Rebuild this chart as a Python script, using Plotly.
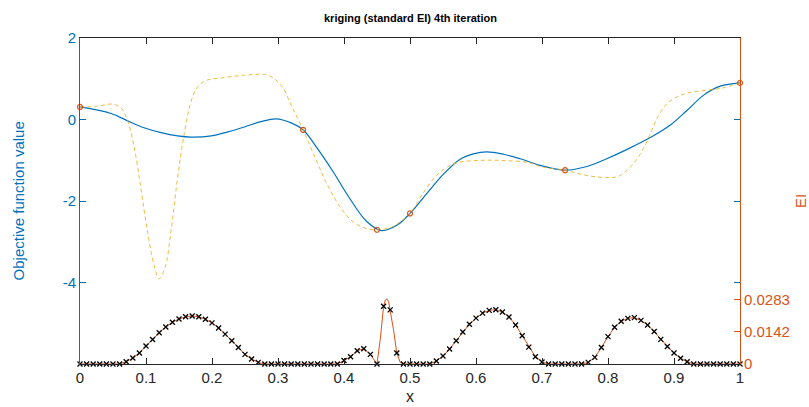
import numpy as np
import plotly.graph_objects as go

# ---------------- data ----------------
# kriging prediction (blue solid)
pred_x = [0, 0.047, 0.072, 0.097, 0.123, 0.148, 0.168, 0.199, 0.224, 0.249, 0.274, 0.297, 0.32, 0.338,
          0.358, 0.384, 0.409, 0.434, 0.457, 0.48, 0.5, 0.525, 0.551, 0.576, 0.596, 0.616, 0.642, 0.667,
          0.697, 0.735, 0.768, 0.798, 0.829, 0.864, 0.894, 0.92, 0.945, 0.97, 1.0]
pred_y = [0.31, 0.15, -0.03, -0.20, -0.32, -0.40, -0.43, -0.40, -0.30, -0.18, -0.05, 0.02, -0.08, -0.25,
          -0.67, -1.29, -1.94, -2.49, -2.72, -2.59, -2.30, -1.82, -1.33, -0.97, -0.84, -0.79, -0.85, -0.96,
          -1.12, -1.24, -1.15, -0.96, -0.73, -0.44, -0.14, 0.23, 0.60, 0.82, 0.90]

# true objective function (yellow dashed)
true_x = [0, 0.027, 0.049, 0.062, 0.072, 0.082, 0.092, 0.102, 0.113, 0.120, 0.129, 0.138, 0.148, 0.158,
          0.168, 0.178, 0.191, 0.214, 0.249, 0.272, 0.285, 0.305, 0.320, 0.338, 0.358, 0.374, 0.394, 0.414,
          0.434, 0.45, 0.47, 0.485, 0.5, 0.52, 0.54, 0.561, 0.576, 0.606, 0.637, 0.682, 0.697, 0.735, 0.768,
          0.798, 0.816, 0.834, 0.849, 0.862, 0.874, 0.887, 0.9, 0.92, 0.95, 0.975, 1.0]
true_y = [0.31, 0.33, 0.38, 0.29, -0.02, -0.67, -1.65, -2.72, -3.62, -3.90, -3.62, -2.72, -1.41, -0.34,
          0.43, 0.80, 0.96, 1.02, 1.09, 1.11, 1.09, 0.84, 0.35, -0.25, -1.0, -1.57, -2.14, -2.51,
          -2.67, -2.70, -2.65, -2.51, -2.30, -1.80, -1.37, -1.12, -1.04, -1.0, -1.0, -1.06, -1.15, -1.24, -1.37,
          -1.42, -1.39, -1.16, -0.84, -0.43, 0.02, 0.35, 0.52, 0.65, 0.72, 0.78, 0.90]

# sampled points (orange circles)
samp_x = [0.0, 0.338, 0.450, 0.5, 0.735, 1.0]
samp_y = [0.31, -0.25, -2.70, -2.30, -1.24, 0.90]

# expected improvement at grid points x = 0, 0.01, ..., 1
ei_vals = [0, 0, 0, 0, 0, 0, 0,
           0.0010, 0.0026, 0.0048, 0.0079, 0.0107, 0.0137, 0.0162, 0.0183, 0.0197, 0.0207, 0.0210,
           0.0207, 0.0196, 0.0180, 0.0158, 0.0131, 0.0102, 0.0072, 0.0042, 0.0022, 0.0007,
           0, 0, 0, 0, 0, 0, 0, 0, 0, 0, 0, 0,
           0.0015, 0.0032, 0.0058, 0.0067, 0.0042, 0.0, 0.0253, 0.0237, 0.0048,
           0, 0, 0, 0, 0,
           0.0013, 0.0035, 0.0066, 0.0102, 0.0140, 0.0174, 0.0201, 0.0223, 0.0235, 0.0238, 0.0228,
           0.0206, 0.0171, 0.0124, 0.0074, 0.0032, 0.0009,
           0, 0, 0, 0, 0, 0,
           0.0007, 0.0029, 0.0072, 0.0120, 0.0161, 0.0187, 0.0200, 0.0203, 0.0191, 0.0171, 0.0142,
           0.0108, 0.0077, 0.0048, 0.0025, 0.0010,
           0, 0, 0, 0, 0, 0, 0, 0]
ei_x = [round(i * 0.01, 2) for i in range(len(ei_vals))]

# extra points of the finely-sampled EI curve around the narrow spike
ei_fine_x = [0.445, 0.455, 0.4625, 0.465, 0.4675, 0.475, 0.485]
ei_fine_y = [0.0022, 0.0110, 0.0280, 0.0285, 0.0275, 0.0150, 0.0008]

x_ticks = [0, 0.1, 0.2, 0.3, 0.4, 0.5, 0.6, 0.7, 0.8, 0.9, 1]
x_ticktext = ["0", "0.1", "0.2", "0.3", "0.4", "0.5", "0.6", "0.7", "0.8", "0.9", "1"]
y_ticks = [-4, -2, 0, 2]
y_ticktext = ["-4", "-2", "0", "2"]
ei_ticks = [0, 0.0142, 0.0283]
ei_ticktext = ["0", "0.0142", "0.0283"]

# ---------------- styling ----------------
BLUE = "#0072BD"
ORANGE = "#D95319"
YELLOW = "#EDB120"
AX = "#262626"
FONT = "Liberation Sans, Arial, Helvetica, sans-serif"

line_pts = sorted(zip(ei_x + ei_fine_x, ei_vals + ei_fine_y))
ei_line_x = [p[0] for p in line_pts]
ei_line_y = [p[1] for p in line_pts]

fig = go.Figure()
fig.add_trace(go.Scatter(x=pred_x, y=pred_y, mode="lines", line=dict(color=BLUE, width=1.2, shape="spline"),
                         yaxis="y", showlegend=False, hoverinfo="skip"))
fig.add_trace(go.Scatter(x=true_x, y=true_y, mode="lines",
                         line=dict(color=YELLOW, width=1, dash="4px,3px", shape="spline"),
                         yaxis="y", showlegend=False, hoverinfo="skip", opacity=0.85))
fig.add_trace(go.Scatter(x=samp_x, y=samp_y, mode="markers",
                         marker=dict(symbol="circle-open", size=5, color=ORANGE, line=dict(width=1.2, color=ORANGE)),
                         yaxis="y", showlegend=False, hoverinfo="skip", cliponaxis=False))
fig.add_trace(go.Scatter(x=ei_line_x, y=ei_line_y, mode="lines", line=dict(color=ORANGE, width=1),
                         yaxis="y2", showlegend=False, hoverinfo="skip"))
fig.add_trace(go.Scatter(x=ei_x, y=ei_vals, mode="markers",
                         marker=dict(symbol="x-thin", size=5, color="black", line=dict(width=1.3, color="black")),
                         yaxis="y2", showlegend=False, hoverinfo="skip", cliponaxis=False))
# invisible trace to activate mirrored blue ticks on the right
fig.add_trace(go.Scatter(x=[0.5], y=[0], mode="markers", marker=dict(opacity=0), yaxis="y3",
                         showlegend=False, hoverinfo="skip"))

fig.update_layout(
    width=809, height=407,
    margin=dict(l=80, r=69, t=38, b=43),
    paper_bgcolor="white", plot_bgcolor="white",
    font=dict(family=FONT, size=15, color=AX),
    xaxis=dict(range=[0, 1], tickvals=x_ticks, ticktext=x_ticktext, ticks="inside", ticklen=6,
               tickcolor=AX, showline=True, linecolor=AX, linewidth=1, mirror="ticks",
               showgrid=False, zeroline=False, tickfont=dict(size=15, color=AX)),
    yaxis=dict(range=[-5.99, 2], tickvals=y_ticks, ticktext=y_ticktext, ticks="inside", ticklen=6,
               tickcolor=BLUE, showline=True, linecolor=BLUE, linewidth=1, showgrid=False, zeroline=False,
               tickfont=dict(size=15, color=BLUE)),
    yaxis2=dict(range=[0, 0.1428], overlaying="y", side="right", tickvals=ei_ticks, ticktext=ei_ticktext,
                ticks="inside", ticklen=6, tickcolor=ORANGE, showline=True, linecolor=ORANGE, linewidth=1,
                showgrid=False, zeroline=False, tickfont=dict(size=15, color=ORANGE)),
    yaxis3=dict(range=[-5.99, 2], overlaying="y", side="right", tickvals=y_ticks, ticks="inside",
                ticklen=6, tickcolor=BLUE, showticklabels=False, showline=False, showgrid=False,
                zeroline=False),
    annotations=[
        dict(text="<b>kriging (standard EI) 4th iteration</b>", x=0.5, y=1 + 20 / 326, xref="paper", yref="paper",
             showarrow=False, xanchor="center", yanchor="middle", font=dict(size=11, color="black", family=FONT)),
        dict(text="Objective function value", x=(19 - 80.5) / 659.5, y=0.5, xref="paper", yref="paper",
             showarrow=False, textangle=-90, xanchor="center", yanchor="middle",
             font=dict(size=15, color=BLUE, family=FONT)),
        dict(text="EI", x=(800 - 80.5) / 659.5, y=0.5, xref="paper", yref="paper",
             showarrow=False, textangle=-90, xanchor="center", yanchor="middle",
             font=dict(size=15, color=ORANGE, family=FONT)),
        dict(text="x", x=0.5, y=-(397 - 364.3) / 326, xref="paper", yref="paper",
             showarrow=False, xanchor="center", yanchor="middle", font=dict(size=16, color=AX, family=FONT)),
    ],
)

fig.write_html("out.html")
